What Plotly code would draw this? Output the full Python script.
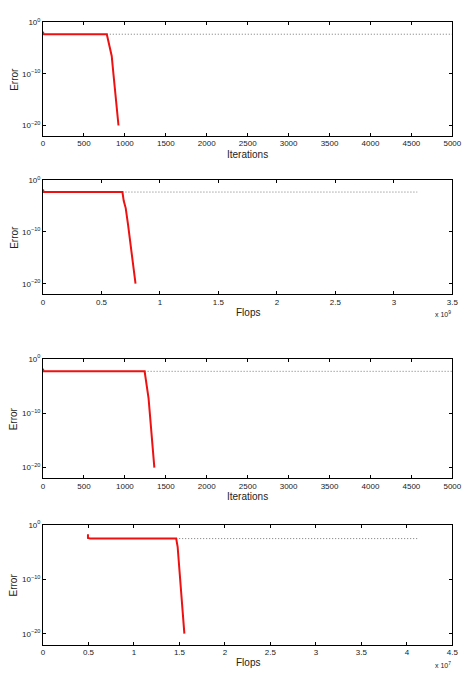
import numpy as np
import plotly.graph_objects as go

# ---- data ----
# Panel 1: error vs iterations
it1_red_x = [0, 5, 779, 800, 839, 860, 922]
it1_red_y = [1.5e-2, 5e-3, 5e-3, 1e-4, 3e-7, 1e-10, 1e-20]
it1_gray_x = [779, 5000]
it1_gray_y = [5e-3, 5e-3]

# Panel 2: error vs flops
fl1_red_x = [0, 0.005e9, 0.679e9, 0.69e9, 0.707e9, 0.727e9, 0.791e9]
fl1_red_y = [1.5e-2, 5e-3, 5e-3, 1e-4, 4e-6, 2.5e-9, 1e-20]
fl1_gray_x = [0.679e9, 3.2e9]
fl1_gray_y = [5e-3, 5e-3]

# Panel 3: error vs iterations
it2_red_x = [0, 5, 1241, 1260, 1289, 1310, 1360]
it2_red_y = [1.5e-2, 5e-3, 5e-3, 1e-4, 6e-8, 1e-11, 1e-20]
it2_gray_x = [1241, 5000]
it2_gray_y = [5e-3, 5e-3]

# Panel 4: error vs flops
fl2_red_x = [0.494e7, 0.494e7, 0.52e7, 1.464e7, 1.48e7, 1.493e7, 1.51e7, 1.554e7]
fl2_red_y = [2e-2, 4e-3, 3.2e-3, 3.2e-3, 1e-4, 2.5e-7, 1e-10, 1e-20]
fl2_gray_x = [1.464e7, 4.12e7]
fl2_gray_y = [3.2e-3, 3.2e-3]

iter_ticks = [0, 500, 1000, 1500, 2000, 2500, 3000, 3500, 4000, 4500, 5000]
flops1_ticks = [0, 0.5e9, 1e9, 1.5e9, 2e9, 2.5e9, 3e9, 3.5e9]
flops1_text = ["0", "0.5", "1", "1.5", "2", "2.5", "3", "3.5"]
flops2_ticks = [0, 0.5e7, 1e7, 1.5e7, 2e7, 2.5e7, 3e7, 3.5e7, 4e7, 4.5e7]
flops2_text = ["0", "0.5", "1", "1.5", "2", "2.5", "3", "3.5", "4", "4.5"]
y_ticks = [1, 1e-10, 1e-20]
y_text = ["10<sup>0</sup>", "10<sup>−10</sup>", "10<sup>−20</sup>"]

W, H = 475, 673
FONT = "Liberation Sans, Arial, Helvetica, sans-serif"
TXT = "#222"

# pixel geometry of axes boxes (top, bottom)
xl, xr = 42, 461
boxes = [(16.5, 131), (175.7, 290.7), (356, 476.7), (523.7, 644.3)]

panels = [
    (it1_red_x, it1_red_y, it1_gray_x, it1_gray_y, [0, 5000], iter_ticks, [str(t) for t in iter_ticks]),
    (fl1_red_x, fl1_red_y, fl1_gray_x, fl1_gray_y, [0, 3.5e9], flops1_ticks, flops1_text),
    (it2_red_x, it2_red_y, it2_gray_x, it2_gray_y, [0, 5000], iter_ticks, [str(t) for t in iter_ticks]),
    (fl2_red_x, fl2_red_y, fl2_gray_x, fl2_gray_y, [0, 4.5e7], flops2_ticks, flops2_text),
]

fig = go.Figure()
layout = dict(
    width=W, height=H,
    margin=dict(l=0, r=0, t=0, b=0),
    paper_bgcolor="white", plot_bgcolor="white",
    showlegend=False,
    font=dict(family=FONT, size=8, color=TXT),
)

annotations = []
for i, (rx, ry, gx, gy, xrng, xt, xtt) in enumerate(panels):
    n = i + 1
    xa = "x" if n == 1 else f"x{n}"
    ya = "y" if n == 1 else f"y{n}"
    fig.add_trace(go.Scatter(x=gx, y=gy, mode="lines", xaxis=xa, yaxis=ya,
                             line=dict(color="#777", width=1, dash="1px,2px")))
    fig.add_trace(go.Scatter(x=rx, y=ry, mode="lines", xaxis=xa, yaxis=ya,
                             line=dict(color="#ee1111", width=2)))
    top, bot = boxes[i]
    ydom = [1 - bot / H, 1 - top / H]
    xdom = [xl / W, xr / W]
    xkey = "xaxis" if n == 1 else f"xaxis{n}"
    ykey = "yaxis" if n == 1 else f"yaxis{n}"
    layout[xkey] = dict(
        domain=xdom, anchor=ya, range=xrng, tickvals=xt, ticktext=xtt,
        ticks="inside", ticklen=3, tickcolor="black", showline=True,
        linecolor="black", linewidth=1, mirror="ticks", showgrid=False,
        zeroline=False, tickfont=dict(size=8, color=TXT, family=FONT),
    )
    layout[ykey] = dict(
        domain=ydom, anchor=xa, type="log", range=[-22, 0],
        tickvals=y_ticks, ticktext=y_text,
        ticks="inside", ticklen=3, tickcolor="black", showline=True,
        linecolor="black", linewidth=1, mirror="ticks", showgrid=False,
        zeroline=False, tickfont=dict(size=8, color=TXT, family=FONT),
    )
    # y title
    annotations.append(dict(
        text="Error", x=12 / W, y=1 - (top + bot) / 2 / H, xref="paper", yref="paper",
        xanchor="center", yanchor="middle", textangle=-90, showarrow=False,
        font=dict(size=10, color=TXT, family=FONT)))
    # x title
    title = "Iterations" if n in (1, 3) else "Flops"
    annotations.append(dict(
        text=title, x=(xl + xr) / 2 / W, y=1 - (bot + 18.5) / H, xref="paper", yref="paper",
        xanchor="center", yanchor="middle", showarrow=False,
        font=dict(size=10, color=TXT, family=FONT)))
    if n == 2:
        annotations.append(dict(
            text="x 10<sup>9</sup>", x=462 / W, y=1 - (bot + 20) / H, xref="paper", yref="paper",
            xanchor="right", yanchor="middle", showarrow=False,
            font=dict(size=7, color=TXT, family=FONT)))
    if n == 4:
        annotations.append(dict(
            text="x 10<sup>7</sup>", x=462 / W, y=1 - (bot + 20.5) / H, xref="paper", yref="paper",
            xanchor="right", yanchor="middle", showarrow=False,
            font=dict(size=7, color=TXT, family=FONT)))

layout["annotations"] = annotations
fig.update_layout(**layout)
fig.write_html("out.html")
